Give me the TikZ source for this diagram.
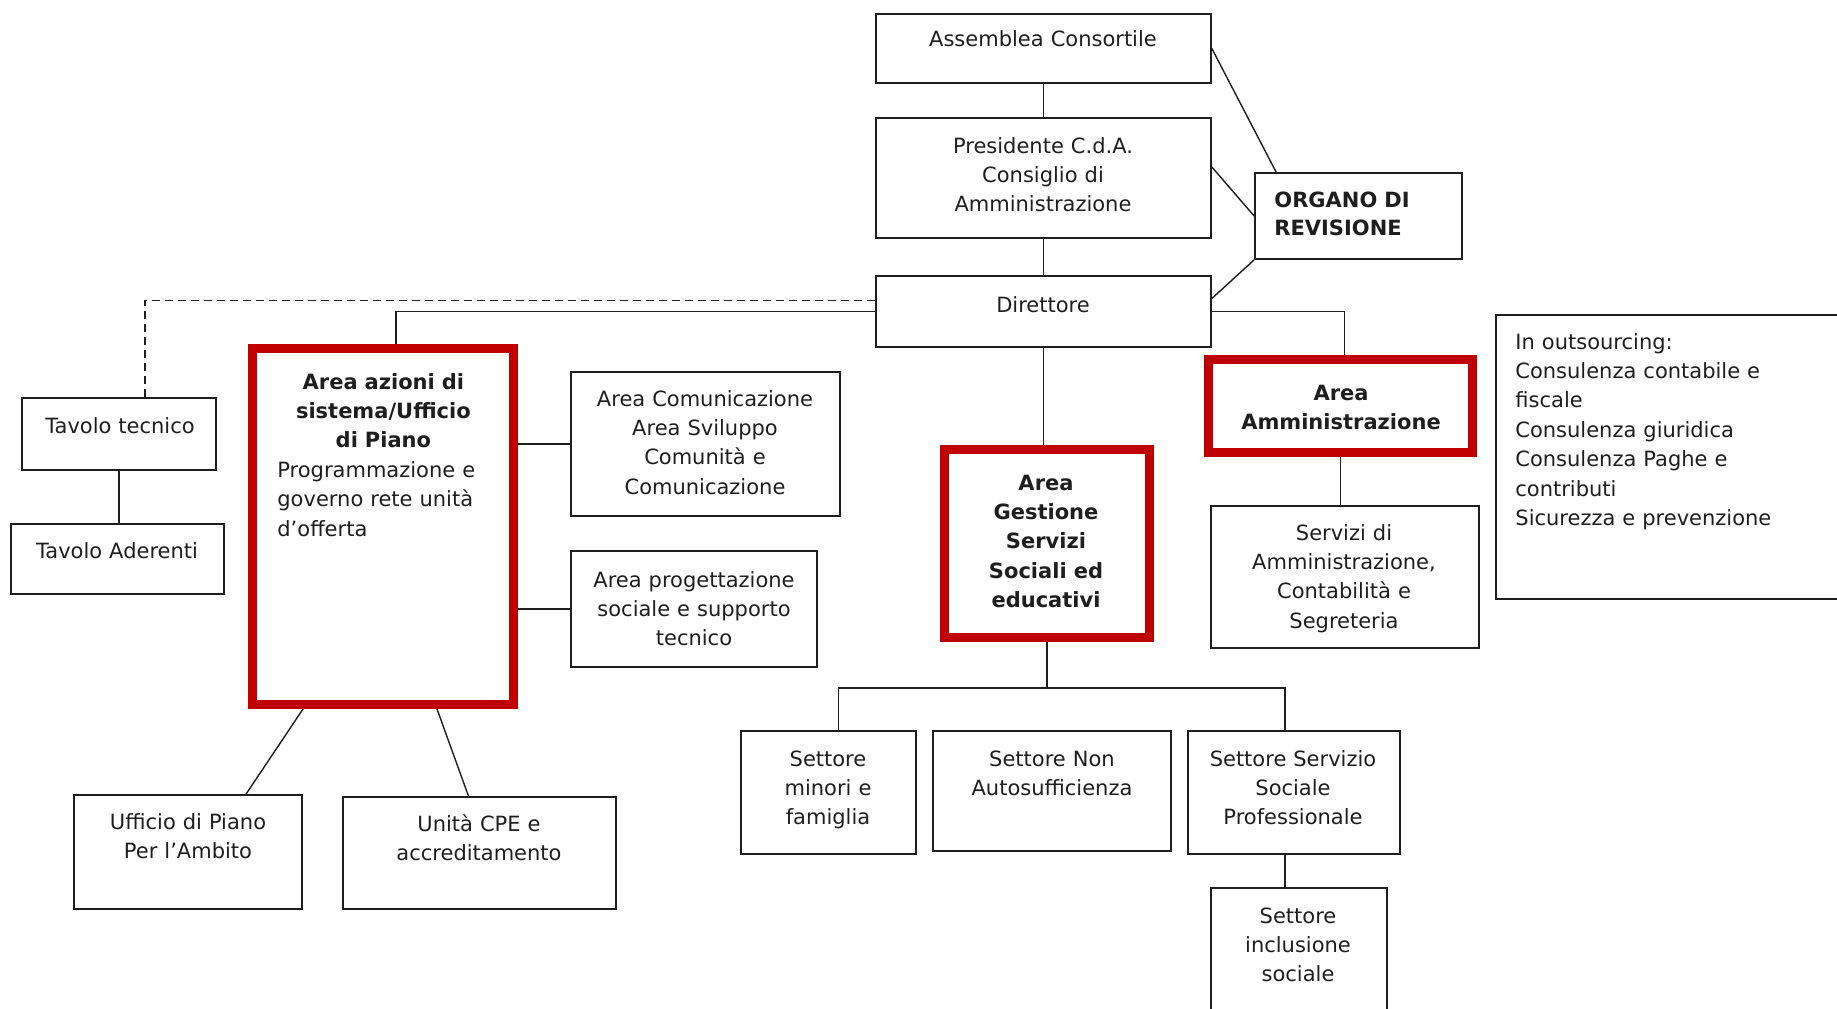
\documentclass[tikz,border=0pt]{standalone}
\usepackage{fontspec}
\setmainfont{DejaVu Sans}
\usepackage{xcolor}
\usetikzlibrary{fit, calc, backgrounds}

\definecolor{rosso}{RGB}{192, 0, 0}
\definecolor{inchiostro}{RGB}{30, 30, 30}

\begin{document}
\begin{tikzpicture}[x = 0.5pt, y = -0.5pt,
	casella/.style = {draw = inchiostro, line width = 0.85pt, inner sep = 0pt},
	area/.style = {draw = rosso, line width = 3.25pt, inner sep = 0pt},
	filo/.style = {draw = rosso, line width = 1.1pt},
	linea/.style = {draw = inchiostro, line width = 0.7pt},
	tratteggio/.style = {linea, dash pattern = on 4pt off 2.5pt},
	testo/.style = {anchor = base, align = center, text width = 140pt, inner sep = 0pt, text = inchiostro, font = \fontsize{10.5}{14.7}\selectfont},
	testosx/.style = {testo, anchor = base west, align = left}]

	\useasboundingbox (0, 0) rectangle (1837, 1008);
	\clip (0, 0) rectangle (1837, 1008);

	% Vertice
	\node[casella, fit = {(876,  14) (1211,  83)}] (asm) {};
	\node[casella, fit = {(876, 118) (1211, 238)}] (pre) {};
	\node[casella, fit = {(876, 276) (1211, 347)}] (dir) {};
	\node[casella, fit = {(1255, 173) (1462, 259)}] (org) {};

	\node[testo] (asmT) at (1043,  46) {Assemblea Consortile};
	\node[testo] (preT) at (1043, 153) {Presidente C.d.A.\\Consiglio di\\Amministrazione};
	\node[testo] (dirT) at (1043, 312) {Direttore};
	\node[testosx, text width = 100pt, font = \fontsize{10.5}{14}\selectfont\bfseries] (orgT) at (1274, 207) {ORGANO DI\\REVISIONE};

	% Tavoli
	\node[casella, fit = {(22, 398) (216, 470)}] (tt) {};
	\node[casella, fit = {(11, 524) (224, 594)}] (tad) {};
	\node[testo] (ttT)  at (120, 433) {Tavolo tecnico};
	\node[testo] (tadT) at (117, 558) {Tavolo Aderenti};

	% Area azioni di sistema
	\node[area, fit = {(251.25, 347.25) (514.75, 705.75)}] (az) {};
	\draw[filo] ($(az.north west) + (7.5, 7.5)$) rectangle ($(az.south east) + (-7.5, -7.5)$);
	\node[testosx, text width = 106pt] (azT) at (277, 389) {{\centering\bfseries Area azioni di\\sistema/Ufficio\\di Piano\par}Programmazione e\\governo rete unità\\d’offerta};

	\node[casella, fit = {(571, 372) (840, 516)}] (com) {};
	\node[casella, fit = {(571, 551) (817, 667)}] (pro) {};
	\node[testo] (comT) at (705, 406) {Area Comunicazione\\Area Sviluppo\\Comunità e\\Comunicazione};
	\node[testo] (proT) at (694, 587) {Area progettazione\\sociale e supporto\\tecnico};

	\node[casella, fit = {(74, 795) (302, 909)}] (uff) {};
	\node[casella, fit = {(343, 797) (616, 909)}] (cpe) {};
	\node[testo] (uffT) at (188, 829) {Ufficio di Piano\\Per l’Ambito};
	\node[testo] (cpeT) at (479, 831) {Unità CPE e\\accreditamento};

	% Area gestione servizi
	\node[area, fit = {(943.25, 448.25) (1150.75, 638.75)}] (ges) {};
	\draw[filo] ($(ges.north west) + (7.5, 7.5)$) rectangle ($(ges.south east) + (-7.5, -7.5)$);
	\node[testo, font = \fontsize{10.5}{14.7}\selectfont\bfseries] (gesT) at (1046, 490) {Area\\Gestione\\Servizi\\Sociali ed\\educativi};

	\node[casella, fit = {(741, 731) (916, 854)}] (smf) {};
	\node[casella, fit = {(933, 731) (1171, 851)}] (sna) {};
	\node[casella, fit = {(1188, 731) (1400, 854)}] (ssp) {};
	\node[casella, fit = {(1211, 888) (1387, 1030)}] (sis) {};
	\node[testo] (smfT) at (828, 766) {Settore\\minori e\\famiglia};
	\node[testo] (snaT) at (1052, 766) {Settore Non\\Autosufficienza};
	\node[testo] (sspT) at (1293, 766) {Settore Servizio\\Sociale\\Professionale};
	\node[testo] (sisT) at (1298, 923) {Settore\\inclusione\\sociale};

	% Area amministrazione
	\node[area, fit = {(1207.25, 358.25) (1473.75, 453.75)}] (amm) {};
	\draw[filo] ($(amm.north west) + (7.5, 7.5)$) rectangle ($(amm.south east) + (-7.5, -7.5)$);
	\node[testo, font = \fontsize{10.5}{14.7}\selectfont\bfseries] (ammT) at (1341, 400) {Area\\Amministrazione};

	\node[casella, fit = {(1211, 506) (1479, 648)}] (ser) {};
	\node[testo] (serT) at (1344, 540) {Servizi di\\Amministrazione,\\Contabilità e\\Segreteria};

	\node[casella, fit = {(1496, 315) (1860, 599)}] (out) {};
	\node[testosx, text width = 160pt] (outT) at (1515, 349) {In outsourcing:\\Consulenza contabile e\\fiscale\\Consulenza giuridica\\Consulenza Paghe e\\contributi\\Sicurezza e prevenzione};

	% Collegamenti
	\begin{scope}[on background layer]
		\draw[linea] (asm) -- (pre);
		\draw[linea] (pre) -- (dir);
		\draw[linea] (asm.east) -- ($(org.north west) + (22, 0)$);
		\draw[linea] ($(pre.east) + (0, -11)$) -- (org.west);
		\draw[linea] ($(dir.east) + (0, -13)$) -- (org.south west);
		\draw[linea] (dir.east) -| ($(amm.north) + (4, 0)$);
		\draw[linea] (amm.south) -- (amm.south |- ser.north);
		\draw[linea] (dir.south) -- (dir.south |- ges.north);

		\draw[tratteggio] ($(dir.west) + (0, -11)$) -| ($(tt.north) + (26, 0)$);
		\draw[linea] (dir.west) -| ($(az.north) + (13, 0)$);
		\draw[linea] (tt.south) -- (tt.south |- tad.north);

		\draw[linea] (com.west) -- (com.west -| az.east);
		\draw[linea] (pro.west) -- (pro.west -| az.east);
		\draw[linea] ($(az.south) + (-80, 0)$) -- ($(uff.north) + (58, 0)$);
		\draw[linea] ($(az.south) + (54, 0)$) -- ($(cpe.north) + (-11, 0)$);

		\draw[linea] (ges.south) -- ($(ges.south |- smf.north) + (0, -42)$);
		\draw[linea] ($(smf.north) + (10, 0)$) -- ++(0, -42) -| ($(ssp.north) + (-9, 0)$);
		\draw[linea] ($(ssp.south) + (-9, 0)$) -- ($(sis.north) + (-14, 0)$);
	\end{scope}

\end{tikzpicture}
\end{document}
